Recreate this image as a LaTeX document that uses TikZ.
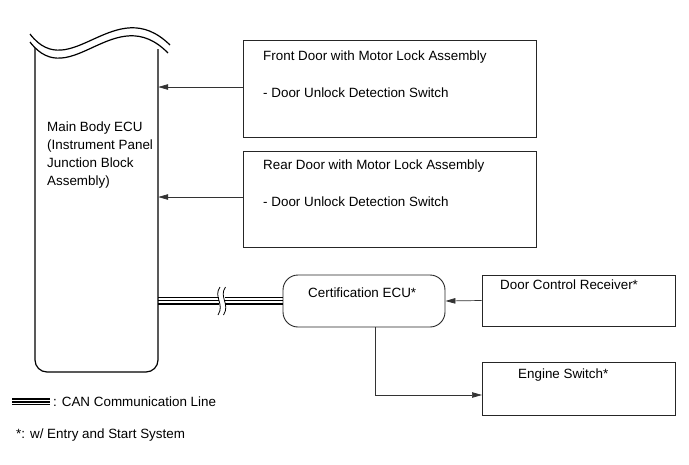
\documentclass[tikz,border=0pt]{standalone}
\usepackage{fontspec}
\setmainfont{Liberation Sans}
\usetikzlibrary{arrows.meta}
\begin{document}
\begin{tikzpicture}[x=1pt,y=-1pt,
  lbl/.style={anchor=west,inner sep=0pt,font=\fontsize{13.4}{18}\selectfont},
  box/.style={draw=black!85,line width=0.9pt,inner sep=0pt},
  arr/.style={draw=black!80,line width=0.7pt,-{Triangle[length=10pt,width=5.5pt]}},
  can/.style={line width=1.6pt},
  eculine/.style={line width=1.2pt}]
\useasboundingbox (0,0) rectangle (689,464);
% Main body ECU
\node[minimum width=123pt,minimum height=322pt,inner sep=0pt] (ecu) at (96.5,211) {};
\draw[eculine,rounded corners=12pt] (35,48) -- (35,372) -- (158,372) -- (158,49);
\draw[eculine] (30,34) .. controls (70,86) and (115,-9) .. (170,45);
\draw[eculine] (30,42) .. controls (70,94) and (115,-1) .. (168,53);
\node[lbl,align=left,anchor=north west] (ecut) at (47,122) {Main Body ECU\\(Instrument Panel\\Junction Block\\Assembly)};
% Door boxes
\node[box,minimum width=293pt,minimum height=97pt] (fd) at (389.5,88.5) {};
\node[lbl] (fdt1) at (263,57) {Front Door with Motor Lock Assembly};
\node[lbl] (fdt2) at (263,93) {- Door Unlock Detection Switch};
\node[box,minimum width=293pt,minimum height=96pt] (rd) at (389.5,199) {};
\node[lbl] (rdt1) at (263,166) {Rear Door with Motor Lock Assembly};
\node[lbl] (rdt2) at (263,202) {- Door Unlock Detection Switch};
\draw[arr] (fd.west |- 0,87) coordinate (fa) -- (fa -| ecu.east);
\draw[arr] (rd.west |- 0,197) coordinate (ra) -- (ra -| ecu.east);
% Certification ECU
\node[box,rounded corners=15pt,minimum width=162pt,minimum height=52pt] (cert) at (364,301) {};
\node[lbl] (certt) at (308,293) {Certification ECU*};
% Door control receiver
\node[box,minimum width=193pt,minimum height=51pt] (dcr) at (578.5,300.5) {};
\node[lbl] (dcrt) at (500,285) {Door Control Receiver*};
\draw[arr] (dcr.west) -- (cert.east);
% Engine switch
\node[box,minimum width=193pt,minimum height=53pt] (es) at (578.5,388.5) {};
\node[lbl] (est) at (518,375) {Engine Switch*};
\coordinate (cx) at (375,0);
\coordinate (esin) at (482,395);
\draw[arr] (cert.south -| cx) |- (esin);
% CAN line
\foreach \yy in {297.3,300.6,303.9}{
  \draw[can] (ecu.east |- 0,\yy) -- (219,\yy);
  \draw[can] (225,\yy) -- (cert.west |- 0,\yy);
}
\draw[line width=0.8pt] (220,287) .. controls (213,297) and (225,304) .. (218,315);
\draw[line width=0.8pt] (225.5,287) .. controls (218.5,297) and (230.5,304) .. (223.5,315);
% Legend
\foreach \yy in {399,401.8,404.6}{
  \draw[line width=1.5pt] (12,\yy) -- (50,\yy);
}
\node[lbl] (leg1) at (53,402) {: CAN Communication Line};
\node[lbl] (leg2) at (16,435) {*: w/ Entry and Start System};
\end{tikzpicture}
\end{document}
